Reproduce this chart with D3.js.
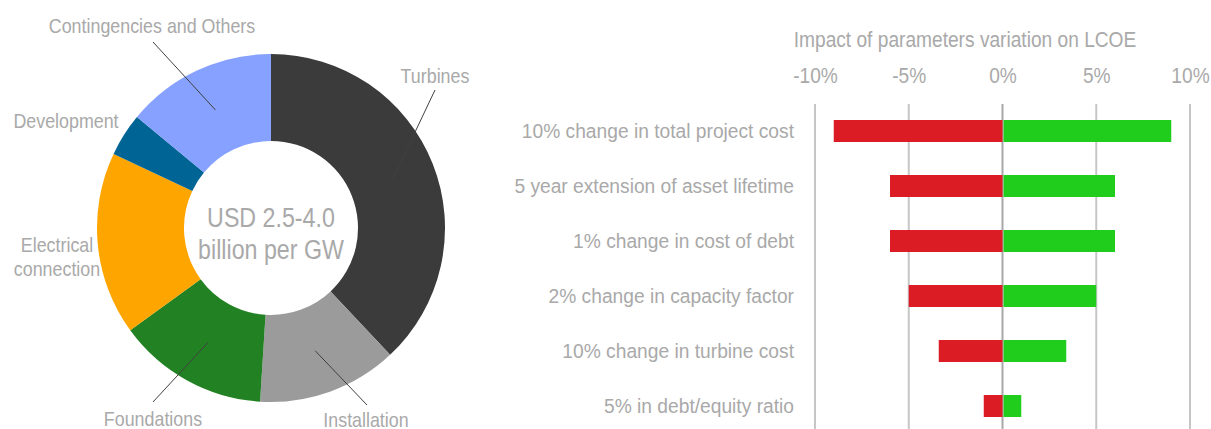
<!DOCTYPE html>
<html>
<head>
<meta charset="utf-8">
<script src="https://cdn.jsdelivr.net/npm/d3@7"></script>
<style>
  html, body { margin: 0; padding: 0; background: #fff; }
  svg { display: block; }
  text { font-family: "Liberation Sans", Arial, sans-serif; fill: #a9a9a9; }
</style>
</head>
<body>
<svg id="chart" width="1211" height="429"></svg>
<script>
// ---- Data: cost breakdown (donut) ----
const costCategories = ["Turbines", "Installation", "Foundations", "Electrical connection", "Development", "Contingencies and Others"];
const costShares = [38, 13, 14, 17, 4, 14];
const costColors = ["#3b3b3b", "#9b9b9b", "#228223", "#ffa500", "#006594", "#86a1ff"];
const centerText = ["USD 2.5-4.0", "billion per GW"];

// ---- Data: LCOE sensitivity (tornado) ----
const chartTitle = "Impact of parameters variation on LCOE";
const parameters = [
  "10% change in total project cost",
  "5 year extension of asset lifetime",
  "1% change in cost of debt",
  "2% change in capacity factor",
  "10% change in turbine cost",
  "5% in debt/equity ratio"
];
const negativeImpact = [-9, -6, -6, -5, -3.4, -1];
const positiveImpact = [9, 6, 6, 5, 3.4, 1];
const xTicks = [-10, -5, 0, 5, 10];

const svg = d3.select("#chart");

// narrow the font horizontally to mimic the condensed face of the original
function squeeze(sel, k) {
  sel.each(function () {
    const w = this.getComputedTextLength();
    d3.select(this).attr("textLength", w * k).attr("lengthAdjust", "spacingAndGlyphs");
  });
}

// ================= Donut =================
const cx = 271, cy = 228, rOuter = 174, rInner = 87;
const pie = d3.pie().sort(null).value(d => d.v);
const arcs = pie(costCategories.map((c, i) => ({ c, v: costShares[i], col: costColors[i] })));
const arc = d3.arc().innerRadius(rInner).outerRadius(rOuter);
const gPie = svg.append("g").attr("transform", `translate(${cx},${cy})`);
gPie.selectAll("path").data(arcs).join("path")
  .attr("d", arc)
  .attr("fill", d => d.data.col);

// label layout (absolute positions), leader lines point to slice centroid
const labelLayout = {
  "Turbines": { x: 435, y: 83, lines: ["Turbines"], lead: [435, 90] },
  "Installation": { x: 366, y: 427, lines: ["Installation"], lead: [367, 405] },
  "Foundations": { x: 153, y: 426, lines: ["Foundations"], lead: [153, 402] },
  "Electrical connection": { x: 57, y: 252, lines: ["Electrical", "connection"], lead: null },
  "Development": { x: 66, y: 128, lines: ["Development"], lead: null },
  "Contingencies and Others": { x: 152, y: 33, lines: ["Contingencies and Others"], lead: [153, 42] }
};

arcs.forEach(a => {
  const L = labelLayout[a.data.c];
  if (L.lead) {
    const c = arc.centroid(a);
    svg.append("line")
      .attr("x1", L.lead[0]).attr("y1", L.lead[1])
      .attr("x2", cx + c[0]).attr("y2", cy + c[1])
      .attr("stroke", "#404040").attr("stroke-width", 1);
  }
  L.lines.forEach((ln, i) => {
    svg.append("text")
      .attr("class", "pielabel")
      .attr("x", L.x).attr("y", L.y + i * 24)
      .attr("text-anchor", "middle")
      .style("font-size", "21px")
      .text(ln);
  });
});
squeeze(svg.selectAll("text.pielabel"), 0.85);

centerText.forEach((ln, i) => {
  svg.append("text")
    .attr("class", "center")
    .attr("x", cx).attr("y", 227 + i * 32)
    .attr("text-anchor", "middle")
    .style("font-size", "27px")
    .text(ln);
});
squeeze(svg.selectAll("text.center"), 0.86);

// ================= Tornado =================
const x = d3.scaleLinear().domain([-10, 10]).range([815, 1190]);
const y = d3.scaleBand().domain(parameters).range([103.5, 433.5]).paddingInner(0.6).paddingOuter(0.3);

svg.append("text")
  .attr("class", "title")
  .attr("x", 965).attr("y", 47)
  .attr("text-anchor", "middle")
  .style("font-size", "22px")
  .text(chartTitle);
squeeze(svg.selectAll("text.title"), 0.87);

// gridlines
svg.append("g").selectAll("line").data(xTicks).join("line")
  .attr("x1", d => x(d)).attr("x2", d => x(d))
  .attr("y1", 104).attr("y2", 429)
  .attr("stroke", d => d === 0 ? "#a8a8a8" : "#c6c6c6")
  .attr("stroke-width", 2);

// axis labels on top
const axis = d3.axisTop(x).tickValues(xTicks).tickFormat(d => d + "%").tickSize(0).tickPadding(0);
const gAxis = svg.append("g").attr("transform", "translate(0,83)").call(axis);
gAxis.select(".domain").remove();
gAxis.selectAll("text")
  .style("font-size", "22px")
  .attr("fill", "#a9a9a9")
  .style("font-family", null);
squeeze(gAxis.selectAll("text"), 0.87);

// bars
const rows = parameters.map((p, i) => ({ p, neg: negativeImpact[i], pos: positiveImpact[i] }));
svg.append("g").selectAll("rect.neg").data(rows).join("rect")
  .attr("class", "neg")
  .attr("x", d => x(d.neg)).attr("width", d => x(0) - x(d.neg))
  .attr("y", d => y(d.p)).attr("height", y.bandwidth())
  .attr("fill", "#dc1c24");
svg.append("g").selectAll("rect.pos").data(rows).join("rect")
  .attr("class", "pos")
  .attr("x", x(0) + 1).attr("width", d => x(d.pos) - x(0) - 1)
  .attr("y", d => y(d.p)).attr("height", y.bandwidth())
  .attr("fill", "#20cc1c");

// category labels
svg.append("g").selectAll("text").data(parameters).join("text")
  .attr("class", "cat")
  .attr("x", 794)
  .attr("y", d => y(d) + y.bandwidth() / 2)
  .attr("dy", "0.35em")
  .attr("text-anchor", "end")
  .style("font-size", "20px")
  .text(d => d);
squeeze(svg.selectAll("text.cat"), 0.96);
</script>
</body>
</html>
